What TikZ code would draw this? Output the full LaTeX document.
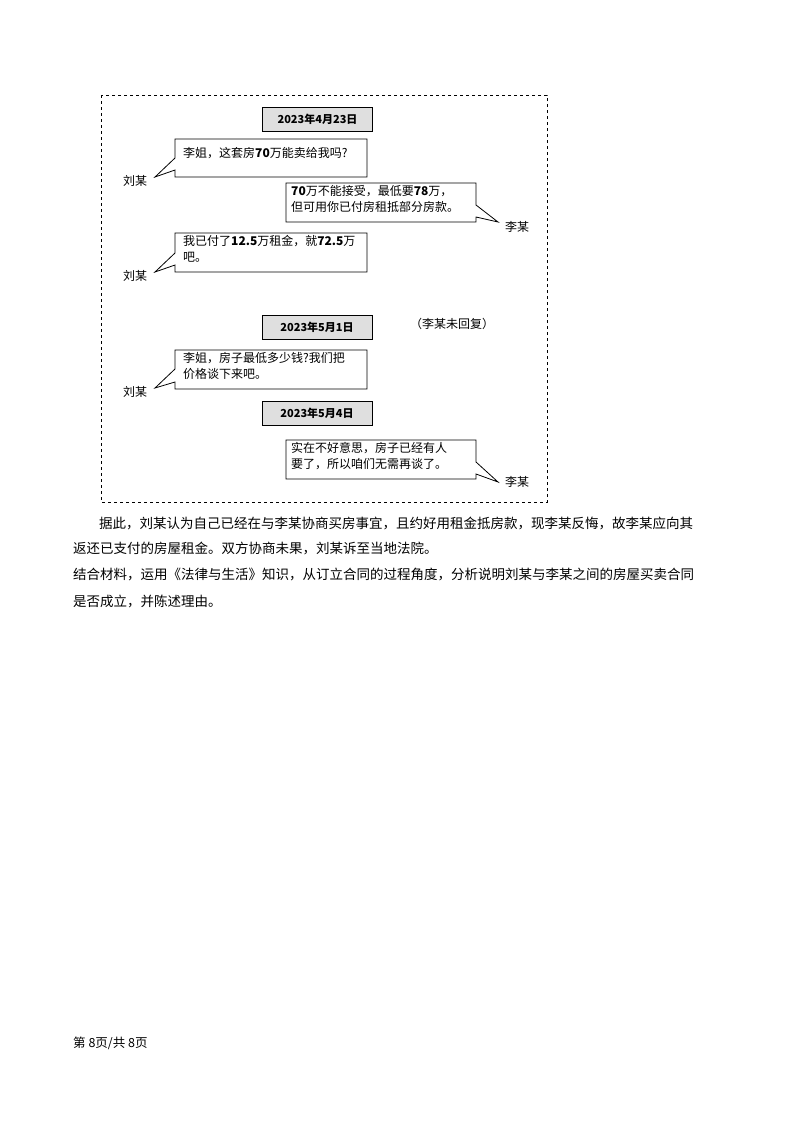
\documentclass[tikz,border=0pt]{standalone}
\usepackage{fontspec}
\setmainfont{Noto Sans CJK SC}
\newfontfamily\numf{Liberation Serif}
\begin{document}
\begin{tikzpicture}[x=1pt,y=-1pt,
  datebox/.style={draw,thick,fill=gray!25,minimum width=110pt,minimum height=24pt,font=\fontsize{11}{12}\selectfont\bfseries},
  bub/.style={draw,thick,line join=miter},
  said/.style={anchor=north west,align=left,font=\fontsize{12}{16}\selectfont,inner sep=0pt},
  who/.style={font=\fontsize{12}{14}\selectfont},
  body/.style={anchor=west,font=\fontsize{13.5}{16}\selectfont,inner sep=0pt}]
\useasboundingbox (0,0) rectangle (800,1132);
\draw[thick,dashed] (101,95) rectangle (547,502);
\node[datebox] (d1) at (317.5,119) {2023年4月23日};
\node[datebox] (d2) at (317,327.5) {2023年5月1日};
\node[datebox] (d3) at (317,413.5) {2023年5月4日};
% bubble 1
\draw[bub] (175,139) -- (367,139) -- (367,177) -- (175,177) -- (175,170) -- (155,177) -- (175,158) -- cycle;
\node[said] (t1) at (183,147) {李姐，这套房{\bfseries 70}万能卖给我吗?};
\node[who] (w1) at (135,181) {刘某};
% bubble 2
\draw[bub] (286,183) -- (476,183) -- (476,205) -- (498,222) -- (476,217) -- (476,222) -- (286,222) -- cycle;
\node[said] (t2) at (291,185) {{\bfseries 70}万不能接受，最低要{\bfseries 78}万，\\但可用你已付房租抵部分房款。};
\node[who] (w2) at (517,227) {李某};
% bubble 3
\draw[bub] (175,233) -- (367,233) -- (367,272) -- (175,272) -- (175,265) -- (155,272) -- (175,253) -- cycle;
\node[said] (t3) at (183,235) {我已付了{\bfseries 12.5}万租金，就{\bfseries 72.5}万\\吧。};
\node[who] (w3) at (135,276) {刘某};
\node[who] (nr) at (452,324) {（李某未回复）};
% bubble 4
\draw[bub] (175,350) -- (367,350) -- (367,389) -- (175,389) -- (175,382) -- (155,388) -- (175,369) -- cycle;
\node[said] (t4) at (183,352) {李姐，房子最低多少钱?我们把\\价格谈下来吧。};
\node[who] (w4) at (135,392) {刘某};
% bubble 5
\draw[bub] (286,440) -- (476,440) -- (476,462) -- (498,482) -- (476,474) -- (476,479) -- (286,479) -- cycle;
\node[said] (t5) at (291,442) {实在不好意思，房子已经有人\\要了，所以咱们无需再谈了。};
\node[who] (w5) at (517,482) {李某};
% body text
\node[body] (p1) at (99,523) {据此，刘某认为自己已经在与李某协商买房事宜，且约好用租金抵房款，现李某反悔，故李某应向其};
\node[body] (p2) at (73,548) {返还已支付的房屋租金。双方协商未果，刘某诉至当地法院。};
\node[body] (p3) at (73,575) {结合材料，运用《法律与生活》知识，从订立合同的过程角度，分析说明刘某与李某之间的房屋买卖合同};
\node[body] (p4) at (73,601) {是否成立，并陈述理由。};
\node[body,font=\fontsize{12.5}{14}\selectfont] (ft) at (73,1043) {第 8页/共 8页};
\end{tikzpicture}
\end{document}
